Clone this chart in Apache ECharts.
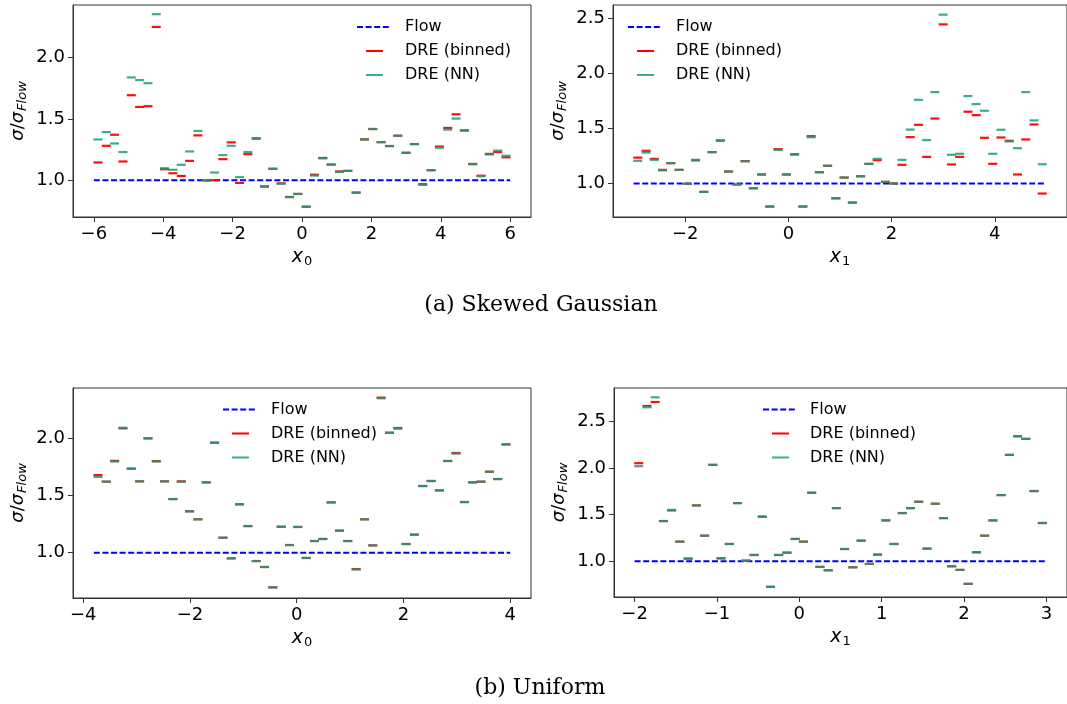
<!DOCTYPE html>
<html>
<head>
<meta charset="utf-8">
<script src="https://cdn.jsdelivr.net/npm/echarts@6/dist/echarts.min.js"></script>
<style>
html,body{margin:0;padding:0;background:#fff;}
#chart{width:1067px;height:704px;}
</style>
</head>
<body>
<div id="chart"></div>
<script>
// ---------- DATA ----------
// Panel (a) left: Skewed Gaussian, x0
const aX0Centers = [-5.88,-5.64,-5.40,-5.16,-4.92,-4.68,-4.44,-4.20,-3.96,-3.72,-3.48,-3.24,-3.00,-2.76,-2.52,-2.28,-2.04,-1.80,-1.56,-1.32,-1.08,-0.84,-0.60,-0.36,-0.12,0.12,0.36,0.60,0.84,1.08,1.32,1.56,1.80,2.04,2.28,2.52,2.76,3.00,3.24,3.48,3.72,3.96,4.20,4.44,4.68,4.92,5.16,5.40,5.64,5.88];
const aX0Binned = [1.145,1.281,1.371,1.153,1.694,1.598,1.604,2.251,1.090,1.057,1.035,1.158,1.366,0.998,1.000,1.172,1.309,0.978,1.213,1.342,0.950,1.094,0.975,0.863,0.888,0.784,1.045,1.182,1.128,1.072,1.076,0.899,1.333,1.418,1.311,1.279,1.363,1.224,1.295,0.968,1.082,1.275,1.427,1.538,1.407,1.133,1.037,1.215,1.230,1.187];
const aX0NN     = [1.333,1.393,1.300,1.230,1.839,1.817,1.792,2.355,1.098,1.085,1.126,1.235,1.402,1.000,1.063,1.205,1.281,1.025,1.230,1.338,0.946,1.092,0.971,0.863,0.888,0.784,1.038,1.178,1.128,1.068,1.076,0.899,1.333,1.418,1.311,1.279,1.363,1.224,1.295,0.962,1.082,1.265,1.413,1.503,1.405,1.130,1.033,1.210,1.242,1.200];
const aX0Flow = [-6, 6];

// Panel (a) right: Skewed Gaussian, x1
const aX1Centers = [-2.92,-2.76,-2.60,-2.44,-2.28,-2.12,-1.96,-1.80,-1.64,-1.48,-1.32,-1.16,-1.00,-0.84,-0.68,-0.52,-0.36,-0.20,-0.04,0.12,0.28,0.44,0.60,0.76,0.92,1.08,1.24,1.40,1.56,1.72,1.88,2.04,2.20,2.36,2.52,2.68,2.84,3.00,3.16,3.32,3.48,3.64,3.80,3.96,4.12,4.28,4.44,4.60,4.76,4.92];
const aX1Binned = [1.235,1.297,1.224,1.124,1.185,1.124,0.997,1.210,0.924,1.285,1.390,1.109,0.991,1.203,0.957,1.082,0.791,1.312,1.082,1.266,0.791,1.430,1.103,1.161,0.866,1.054,0.827,1.066,1.178,1.212,1.015,1.000,1.170,1.421,1.533,1.242,1.590,2.445,1.173,1.242,1.652,1.621,1.415,1.179,1.418,1.388,1.082,1.400,1.536,0.909];
const aX1NN     = [1.206,1.281,1.215,1.119,1.185,1.124,0.997,1.215,0.924,1.285,1.390,1.109,0.991,1.203,0.957,1.082,0.791,1.305,1.082,1.262,0.791,1.420,1.103,1.161,0.866,1.054,0.827,1.066,1.178,1.224,1.015,1.000,1.215,1.490,1.760,1.394,1.830,2.533,1.261,1.270,1.794,1.721,1.661,1.270,1.488,1.382,1.321,1.830,1.573,1.175];
const aX1Flow = [-3, 5];

// Panel (b) left: Uniform, x0
const bX0Centers = [-3.722,-3.566,-3.410,-3.254,-3.098,-2.942,-2.786,-2.630,-2.474,-2.318,-2.162,-2.006,-1.850,-1.694,-1.538,-1.382,-1.226,-1.070,-0.914,-0.758,-0.602,-0.446,-0.290,-0.134,0.022,0.178,0.334,0.490,0.646,0.802,0.958,1.114,1.270,1.426,1.582,1.738,1.894,2.050,2.206,2.362,2.518,2.674,2.830,2.986,3.142,3.298,3.454,3.610,3.766,3.922];
const bX0Binned = [1.679,1.621,1.803,2.087,1.735,1.624,2.000,1.801,1.624,1.469,1.624,1.362,1.292,1.615,1.962,1.131,0.951,1.423,1.233,0.927,0.875,0.697,1.227,1.067,1.225,0.954,1.102,1.120,1.440,1.193,1.102,0.857,1.292,1.064,2.356,2.049,2.090,1.076,1.158,1.583,1.627,1.545,1.802,1.872,1.443,1.615,1.621,1.708,1.644,1.947];
const bX0NN     = [1.662,1.621,1.797,2.093,1.735,1.624,2.000,1.797,1.624,1.469,1.620,1.362,1.292,1.615,1.962,1.131,0.951,1.423,1.233,0.927,0.875,0.697,1.227,1.067,1.225,0.954,1.102,1.120,1.440,1.193,1.102,0.853,1.292,1.064,2.350,2.049,2.084,1.076,1.158,1.583,1.627,1.545,1.802,1.866,1.443,1.615,1.621,1.708,1.644,1.947];
const bX0Flow = [-3.8, 4.0];

// Panel (b) right: Uniform, x1
const bX1Centers = [-1.95,-1.85,-1.75,-1.65,-1.55,-1.45,-1.35,-1.25,-1.15,-1.05,-0.95,-0.85,-0.75,-0.65,-0.55,-0.45,-0.35,-0.25,-0.15,-0.05,0.05,0.15,0.25,0.35,0.45,0.55,0.65,0.75,0.85,0.95,1.05,1.15,1.25,1.35,1.45,1.55,1.65,1.75,1.85,1.95,2.05,2.15,2.25,2.35,2.45,2.55,2.65,2.75,2.85,2.95];
const bX1Binned = [2.053,2.667,2.710,1.432,1.546,1.211,1.029,1.600,1.275,2.035,1.032,1.186,1.625,1.007,1.068,1.479,0.726,1.068,1.093,1.240,1.211,1.736,0.940,0.904,1.571,1.132,0.936,1.222,0.972,1.072,1.439,1.186,1.518,1.571,1.639,1.136,1.618,1.464,0.947,0.908,0.758,1.097,1.275,1.439,1.711,2.142,2.342,2.314,1.754,1.411];
const bX1NN     = [2.021,2.653,2.760,1.432,1.552,1.211,1.029,1.600,1.275,2.035,1.032,1.186,1.625,1.007,1.068,1.479,0.726,1.068,1.093,1.240,1.211,1.736,0.940,0.904,1.571,1.132,0.936,1.222,0.972,1.072,1.439,1.186,1.518,1.571,1.639,1.136,1.618,1.464,0.947,0.908,0.758,1.097,1.275,1.439,1.711,2.142,2.342,2.314,1.754,1.411];
const bX1Flow = [-2, 3];

// Tick labels
const aX0Ticks = [-6,-4,-2,0,2,4,6];
const aX1Ticks = [-2,0,2,4];
const bX0Ticks = [-4,-2,0,2,4];
const bX1Ticks = [-2,-1,0,1,2,3];
const aX0YTicks = [1.0,1.5,2.0];
const aX1YTicks = [1.0,1.5,2.0,2.5];
const bX0YTicks = [1.0,1.5,2.0];
const bX1YTicks = [1.0,1.5,2.0,2.5];

const legendLabels = ['Flow','DRE (binned)','DRE (NN)'];
const captions = ['(a) Skewed Gaussian','(b) Uniform'];

// ---------- STYLE / LAYOUT ----------
const RED = '#ff0000', GREEN = '#1b9e77', BLUE = '#0000ff', SPINE = '#333333';
const FONT = 'DejaVu Sans';

const panels = [
  {grid:{left:73, right:536, top:5, bottom:487}, xr:[-6.6,6.6], yr:[0.70,2.43], cx:aX0Centers, rb:aX0Binned, nn:aX0NN, flow:aX0Flow, xt:aX0Ticks, yt:aX0YTicks, sub:'0'},
  {grid:{left:613, right:-3, top:5, bottom:487}, xr:[-3.4,5.4], yr:[0.696,2.621], cx:aX1Centers, rb:aX1Binned, nn:aX1NN, flow:aX1Flow, xt:aX1Ticks, yt:aX1YTicks, sub:'1'},
  {grid:{left:73, right:536, top:388, bottom:106}, xr:[-4.19,4.39], yr:[0.604,2.44], cx:bX0Centers, rb:bX0Binned, nn:bX0NN, flow:bX0Flow, xt:bX0Ticks, yt:bX0YTicks, sub:'0'},
  {grid:{left:614, right:-3, top:388, bottom:107}, xr:[-2.25,3.25], yr:[0.617,2.86], cx:bX1Centers, rb:bX1Binned, nn:bX1NN, flow:bX1Flow, xt:bX1Ticks, yt:bX1YTicks, sub:'1'}
];

const fmtX = v => (v < 0 ? '\u2212' + Math.abs(v) : String(v));

const grids = [], xAxes = [], yAxes = [], series = [];
panels.forEach((p, k) => {
  grids.push(Object.assign({show:true, borderColor:SPINE, borderWidth:1, backgroundColor:'#fff', containLabel:false}, p.grid));
  xAxes.push({
    type:'value', gridIndex:k, min:p.xr[0], max:p.xr[1],
    axisLine:{show:true, onZero:false, lineStyle:{color:SPINE, width:1}},
    splitLine:{show:false},
    axisTick:{show:true, customValues:p.xt, length:5, inside:false, lineStyle:{color:SPINE, width:1}},
    axisLabel:{customValues:p.xt, formatter:fmtX, fontSize:18, color:'#000', fontFamily:FONT, margin:8},
    name:'{i|x}{s|' + p.sub + '}', nameLocation:'middle', nameGap:29,
    nameTextStyle:{rich:{
      i:{fontSize:19, fontStyle:'italic', fontFamily:FONT, color:'#000'},
      s:{fontSize:13, fontFamily:FONT, color:'#000', padding:[9,0,0,1]}
    }}
  });
  yAxes.push({
    type:'value', gridIndex:k, min:p.yr[0], max:p.yr[1],
    axisLine:{show:true, onZero:false, lineStyle:{color:SPINE, width:1}},
    splitLine:{show:false},
    axisTick:{show:true, customValues:p.yt, length:5, inside:false, lineStyle:{color:SPINE, width:1}},
    axisLabel:{customValues:p.yt, formatter:v => v.toFixed(1), fontSize:18, color:'#000', fontFamily:FONT, margin:8},
    name:'{g|\u03c3}{n|/}{g|\u03c3}{s|Flow}', nameLocation:'middle', nameGap:44, nameRotate:90,
    nameTextStyle:{rich:{
      g:{fontSize:18, fontStyle:'italic', fontFamily:FONT, color:'#000'},
      n:{fontSize:18, fontFamily:FONT, color:'#000'},
      s:{fontSize:13, fontStyle:'italic', fontFamily:FONT, color:'#000', padding:[8,0,0,1]}
    }}
  });
  series.push({
    name:'Flow', type:'line', xAxisIndex:k, yAxisIndex:k, symbol:'none', silent:true,
    data:p.flow.map(x => [x, 1.0]),
    lineStyle:{color:BLUE, width:2, type:[6,2.6]}, z:2
  });
  series.push({
    name:'DRE (binned)', type:'scatter', xAxisIndex:k, yAxisIndex:k, symbol:'rect', symbolSize:[9,2.2],
    data:p.cx.map((x,i) => [x, p.rb[i]]),
    itemStyle:{color:RED, opacity:0.95}, z:3
  });
  series.push({
    name:'DRE (NN)', type:'scatter', xAxisIndex:k, yAxisIndex:k, symbol:'rect', symbolSize:[9,2.2],
    data:p.cx.map((x,i) => [x, p.nn[i]]),
    itemStyle:{color:GREEN, opacity:0.85}, z:4
  });
});

// Legends (drawn as graphics, one per panel)
const legendPos = [
  {lx:357, tx:405, y:27},
  {lx:628, tx:676, y:27},
  {lx:223, tx:271, y:409.5},
  {lx:763, tx:810, y:409.5}
];
const graphics = [];
legendPos.forEach(L => {
  graphics.push({type:'line', shape:{x1:L.lx, y1:L.y, x2:L.lx+34, y2:L.y}, style:{stroke:BLUE, lineWidth:2, lineDash:[6,2.6]}, z:10});
  graphics.push({type:'rect', shape:{x:L.lx+9, y:L.y+24-1, width:17, height:2}, style:{fill:RED}, z:10});
  graphics.push({type:'rect', shape:{x:L.lx+9, y:L.y+48-1, width:17, height:2}, style:{fill:GREEN, opacity:0.85}, z:10});
  legendLabels.forEach((t, j) => {
    graphics.push({type:'text', x:L.tx, y:L.y + 24*j, style:{text:t, fontSize:16, fontFamily:FONT, fill:'#000', verticalAlign:'middle', align:'left'}, z:10});
  });
});
// Captions
graphics.push({type:'text', x:541, y:305, style:{text:captions[0], fontSize:22, fontFamily:'DejaVu Serif', fill:'#000', align:'center', verticalAlign:'middle'}});
graphics.push({type:'text', x:540, y:688, style:{text:captions[1], fontSize:22, fontFamily:'DejaVu Serif', fill:'#000', align:'center', verticalAlign:'middle'}});

const chart = echarts.init(document.getElementById('chart'), null, {renderer:'canvas'});
chart.setOption({
  animation:false,
  backgroundColor:'#ffffff',
  grid:grids, xAxis:xAxes, yAxis:yAxes, series:series, graphic:graphics
});
</script>
</body>
</html>
